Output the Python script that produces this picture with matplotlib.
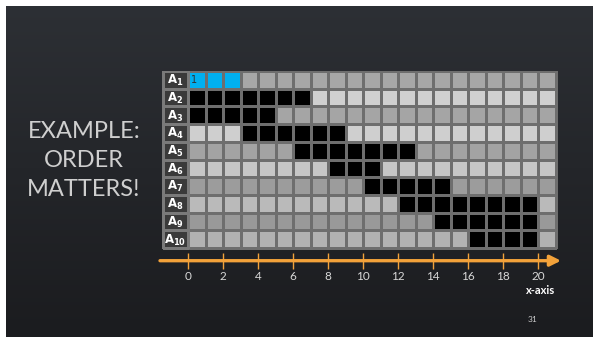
import matplotlib
matplotlib.use('Agg')
import matplotlib.pyplot as plt
import numpy as np
from matplotlib.colors import ListedColormap, LinearSegmentedColormap

# --- data ---
rowLabels = ['1', '2', '3', '4', '5', '6', '7', '8', '9', '10']
nCols = 21
blackStart = [None, 0, 0, 3, 6, 8, 10, 12, 14, 16]
blackEnd = [None, 6, 4, 8, 12, 10, 14, 19, 19, 19]
blueRow = 0
blueCells = [0, 1, 2]
xTicks = [0, 2, 4, 6, 8, 10, 12, 14, 16, 18, 20]
titleLines = ['EXAMPLE:', 'ORDER', 'MATTERS!']
pageNum = '31'

# shades of the non black cells, row by row (slide gets a bit darker lower down)
rowShade = ['#a7a7a7', '#d0d0d0', '#a5a5a5', '#cfcfcf', '#a3a3a3',
            '#c6c6c6', '#9c9c9c', '#bababa', '#999999', '#b2b2b2']

W, H = 593, 337
fig = plt.figure(figsize=(W / 100, H / 100), dpi=100)
fig.patch.set_facecolor('#1b1c1f')

# background gradient of the slide
bg = fig.add_axes([0, 0, 1, 1])
grad = np.linspace(0, 1, 200).reshape(-1, 1)
bg.imshow(grad, aspect='auto', extent=[0, 1, 0, 1],
          cmap=LinearSegmentedColormap.from_list('bg', ['#2d3035', '#1b1c1f']))
bg.set_xlim(0, 1)
bg.set_ylim(0, 1)
# white margin on the left and top of the screenshot
bg.axvspan(0, 6 / W, color='white', lw=0)
bg.axhspan(1 - 6 / H, 1, color='white', lw=0)
bg.axis('off')

# main axes, pixel box x 160..565, y 71..300 ; one unit = one cell
px0, px1, py0, py1 = 160, 565, 71, 300
cw, ch = 17.52, 17.7
ax = fig.add_axes([px0 / W, 1 - py1 / H, (px1 - px0) / W, (py1 - py0) / H])
ax.set_xlim((px0 - 188) / cw, (px1 - 188) / cw)
ax.set_ylim((py1 - 71) / ch, 0)
ax.axis('off')
ax.patch.set_alpha(0)

# build the cell colour matrix
codes = np.zeros((len(rowLabels), nCols), dtype=int)
palette = []
for r in range(len(rowLabels)):
  for c in range(nCols):
    col = rowShade[r]
    if blackStart[r] is not None and blackStart[r] <= c <= blackEnd[r]:
      col = '#000000'
    if r == blueRow and c in blueCells:
      col = '#00b0f0'
    if col not in palette:
      palette.append(col)
    codes[r, c] = palette.index(col)

ax.pcolormesh(np.arange(nCols + 1), np.arange(len(rowLabels) + 1), codes,
              cmap=ListedColormap(palette), vmin=-0.5, vmax=len(palette) - 0.5,
              edgecolors='#6e6e6e', linewidth=1.0)

# label column
labX0 = (163 - 188) / cw
ax.pcolormesh([labX0, 0], np.arange(len(rowLabels) + 1), np.zeros((len(rowLabels), 1)),
              cmap=ListedColormap(['#3a3a3a']), edgecolors='#7a7a7a', linewidth=1.0)
for r, lab in enumerate(rowLabels):
  ax.text(labX0 / 2, r + 0.55, r'$\mathbf{A}_{\mathbf{%s}}$' % lab, color='white',
          ha='center', va='center', fontsize=8.5)

ax.text(0.15, blueRow + 0.5, '1', color='#303030', ha='left', va='center', fontsize=7)

# orange x axis arrow
yAx = (260.7 - 71) / ch
ax.annotate('', xy=((561 - 188) / cw, yAx), xytext=((px0 - 188) / cw, yAx),
            arrowprops=dict(arrowstyle='-|>', color='#f2a23a', lw=2.4,
                            mutation_scale=16, shrinkA=0, shrinkB=0))
ax.vlines(xTicks, (253 - 71) / ch, (269 - 71) / ch, color='#f2a23a', lw=1.0)
for t in xTicks:
  ax.text(t, (276 - 71) / ch, str(t), color='#d8d8d8', ha='center', va='center',
          fontsize=8.5, family='Lato')
ax.text((541 - 188) / cw, (291 - 71) / ch, 'x-axis', color='white', ha='center',
        va='center', fontsize=8, fontweight='bold', family='Lato')

# left title and page number
for i, line in enumerate(titleLines):
  fig.text(84 / W, 1 - (131 + i * 29.5) / H, line, color='#cfcfcf', ha='center',
           va='center', fontsize=17, family='Lato')
fig.text(533 / W, 1 - 320 / H, pageNum, color='#cfcfcf', ha='center', va='center',
         fontsize=6, family='Lato')

plt.savefig('out.png', dpi=100, facecolor=fig.get_facecolor())
